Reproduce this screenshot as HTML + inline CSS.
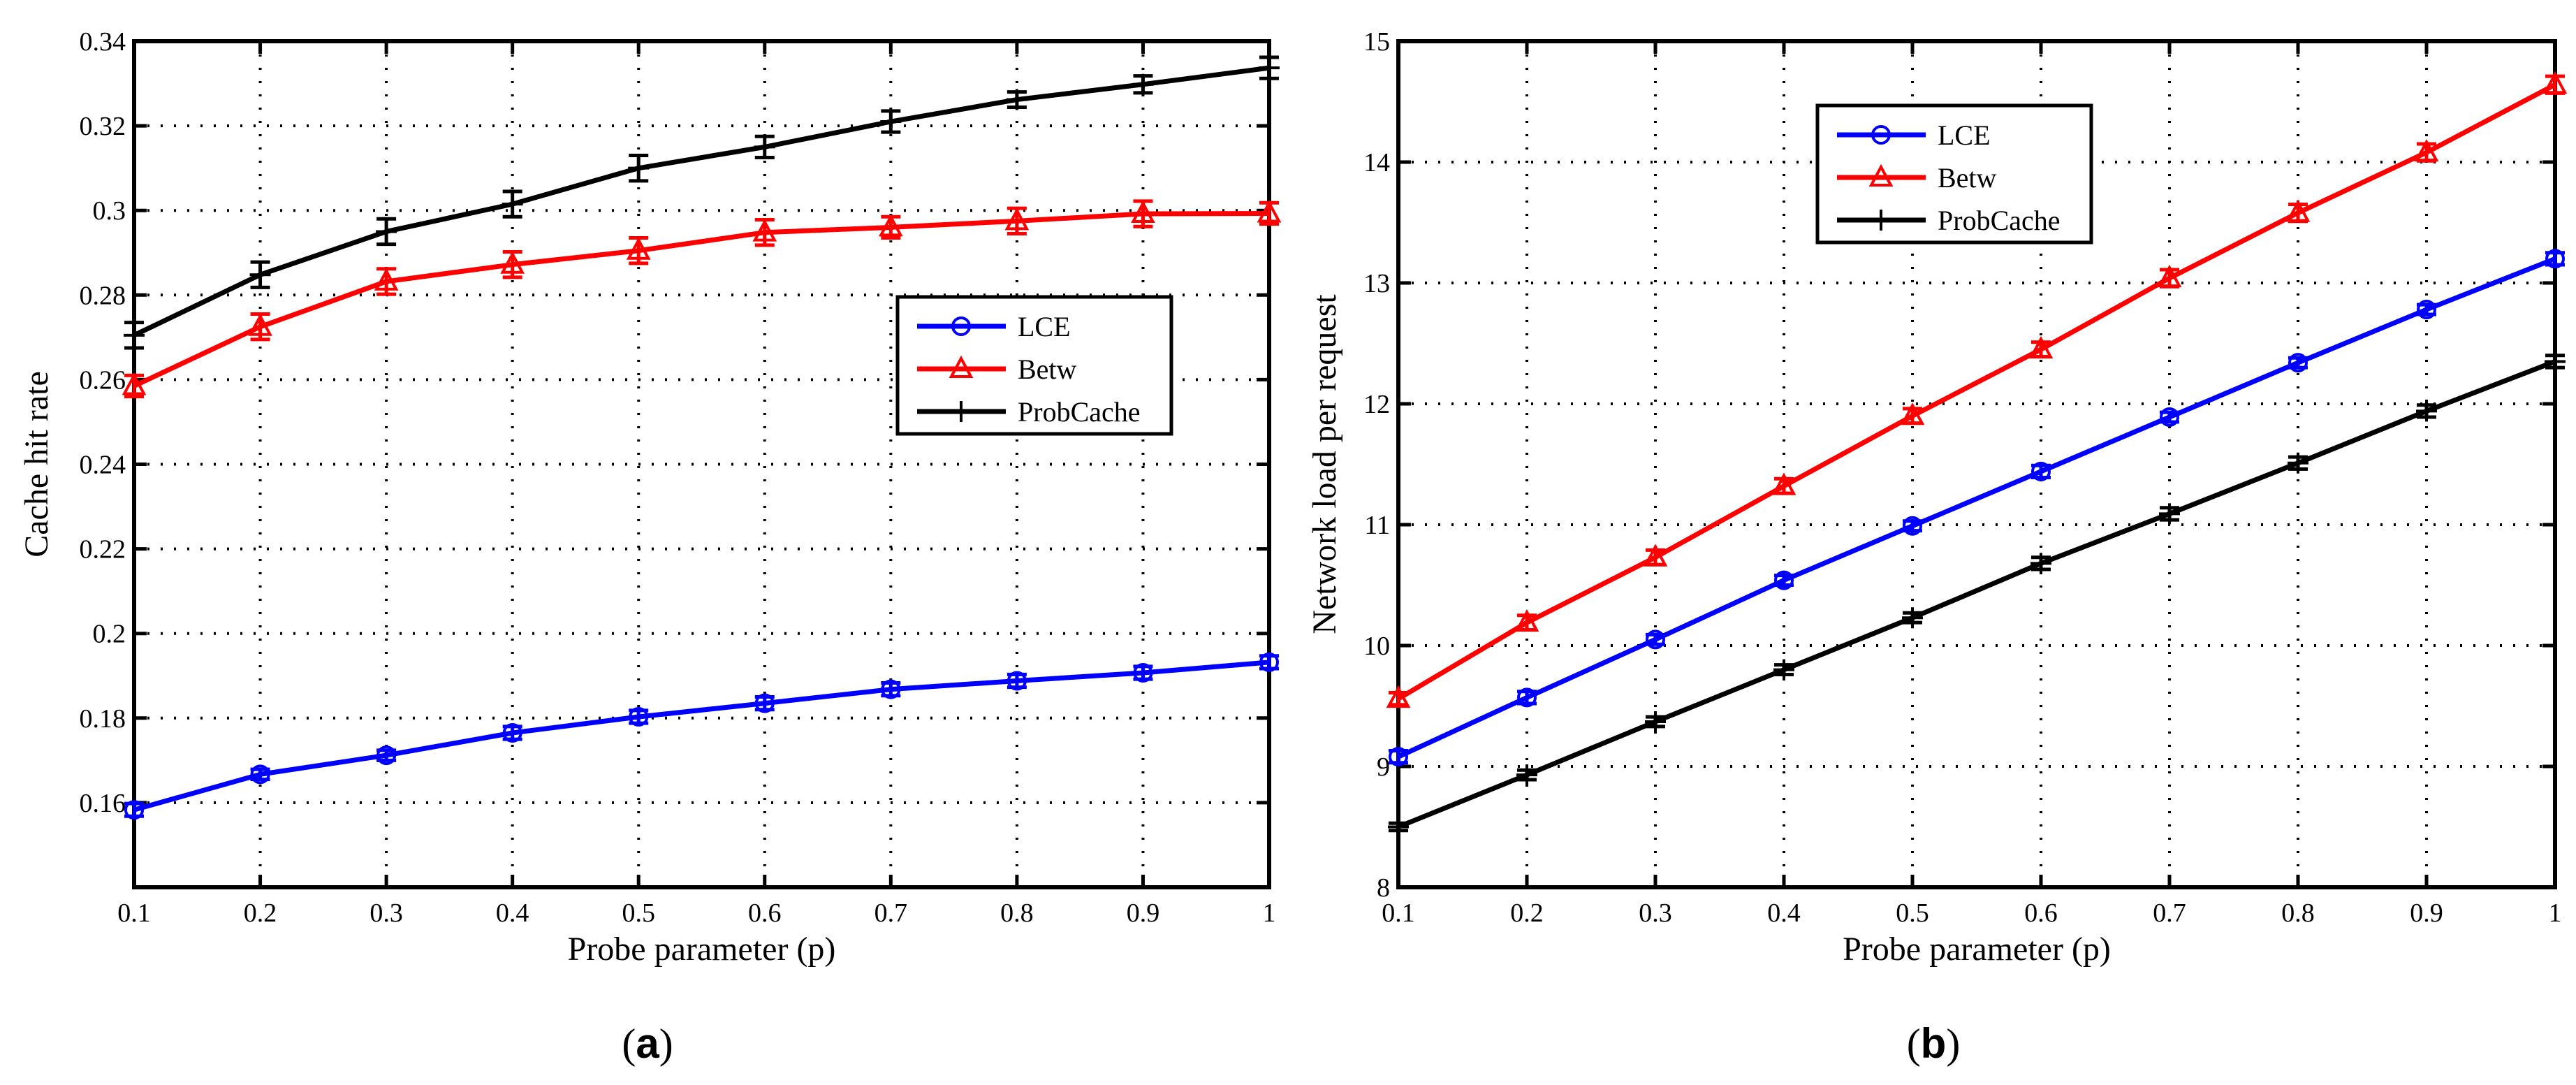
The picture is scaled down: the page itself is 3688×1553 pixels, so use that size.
<!DOCTYPE html>
<html><head><meta charset="utf-8"><style>
html,body{margin:0;padding:0;background:#fff;}
svg{display:block;}
text{font-family:"Liberation Serif",serif;fill:#000;}
</style></head><body>
<svg id="fig" width="3688" height="1553" viewBox="0 0 3688 1553" xmlns="http://www.w3.org/2000/svg"></svg>
<script>
const xCats = [0.1,0.2,0.3,0.4,0.5,0.6,0.7,0.8,0.9,1.0];
const xTickLabels = ["0.1","0.2","0.3","0.4","0.5","0.6","0.7","0.8","0.9","1"];
const aYTicks = [0.16,0.18,0.20,0.22,0.24,0.26,0.28,0.30,0.32,0.34];
const aYTickLabels = ["0.16","0.18","0.2","0.22","0.24","0.26","0.28","0.3","0.32","0.34"];
const aLCE = [0.1583,0.1667,0.1712,0.1765,0.1803,0.1835,0.1868,0.1888,0.1907,0.1932];
const aLCEerr = [0.0015,0.0012,0.0012,0.0015,0.0015,0.0015,0.0015,0.0015,0.0015,0.0015];
const aBetw = [0.2585,0.2725,0.2832,0.2872,0.2905,0.2948,0.2960,0.2975,0.2992,0.2993];
const aBetwErr = [0.0025,0.003,0.003,0.003,0.003,0.003,0.0025,0.003,0.003,0.0025];
const aProb = [0.2705,0.2848,0.2950,0.3015,0.3100,0.3150,0.3210,0.3262,0.3298,0.3337];
const aProbErr = [0.003,0.003,0.003,0.003,0.003,0.0025,0.0025,0.0018,0.002,0.0025];
const bYTicks = [8,9,10,11,12,13,14,15];
const bYTickLabels = ["8","9","10","11","12","13","14","15"];
const bLCE = [9.08,9.57,10.05,10.54,10.99,11.44,11.89,12.34,12.78,13.20];
const bLCEerr = [0.05,0.05,0.04,0.04,0.04,0.05,0.04,0.04,0.04,0.05];
const bBetw = [9.56,10.19,10.73,11.32,11.90,12.45,13.04,13.58,14.08,14.64];
const bBetwErr = [0.05,0.06,0.06,0.06,0.06,0.06,0.07,0.07,0.07,0.07];
const bProb = [8.50,8.93,9.37,9.80,10.23,10.68,11.09,11.51,11.94,12.35];
const bProbErr = [0.03,0.04,0.04,0.04,0.04,0.05,0.05,0.05,0.05,0.05];

const NS="http://www.w3.org/2000/svg";
const svg=document.getElementById('fig');
function el(tag,attrs,parent){const e=document.createElementNS(NS,tag);for(const k in attrs)e.setAttribute(k,attrs[k]);(parent||svg).appendChild(e);return e;}

function panel(cfg){
  const g=el('g',{});
  
  
  const L=cfg.L,R=cfg.R,T=59,B=1270;
  const xs=v=>L+(v-0.1)/(1.0-0.1)*(R-L);
  const ys=v=>B-(v-cfg.ymin)/(cfg.ymax-cfg.ymin)*(B-T);
  xCats.forEach((v,i)=>{
    if(i>0&&i<xCats.length-1){const gl=el('line',{x1:xs(v),x2:xs(v),y1:T,y2:B,stroke:'#000','stroke-width':4,'stroke-dasharray':'3 16'},g);
    }
    const tk=el('line',{x1:xs(v),x2:xs(v),y1:B,y2:B-18,stroke:'#000','stroke-width':5},g);
    
    const tk2=el('line',{x1:xs(v),x2:xs(v),y1:T,y2:T+18,stroke:'#000','stroke-width':5},g);
    
    const t=el('text',{x:xs(v),y:1319,'text-anchor':'middle','font-size':38},g);
    t.textContent=xTickLabels[i];
    
  });
  cfg.yTicks.forEach((v,i)=>{
    const y=ys(v);
    if(v>cfg.ymin&&v<cfg.ymax){const gl=el('line',{x1:L,x2:R,y1:y,y2:y,stroke:'#000','stroke-width':4,'stroke-dasharray':'3 16'},g);
    }
    const tk=el('line',{x1:L,x2:L+18,y1:y,y2:y,stroke:'#000','stroke-width':5},g);
    
    const tk2=el('line',{x1:R,x2:R-18,y1:y,y2:y,stroke:'#000','stroke-width':5},g);
    
    const t=el('text',{x:L-12,y:y+13,'text-anchor':'end','font-size':38},g);
    t.textContent=cfg.yLabels[i];
    
  });
  const box=el('rect',{x:L,y:T,width:R-L,height:B-T,fill:'none',stroke:'#000','stroke-width':6},g);
  
  cfg.series.forEach(s=>{
    const sg=el('g',{},g);
    
    
    const pts=s.vals.map((v,i)=>xs(xCats[i])+','+ys(v)).join(' ');
    const pl=el('polyline',{points:pts,fill:'none',stroke:s.color,'stroke-width':7,'stroke-linejoin':'round'},sg);
    
    s.vals.forEach((v,i)=>{
      const x=xs(xCats[i]),y1=ys(v-s.err[i]),y2=ys(v+s.err[i]);
      const eb=el('path',{d:`M${x},${y1}V${y2}M${x-14},${y1}H${x+14}M${x-14},${y2}H${x+14}`,stroke:s.color,'stroke-width':5,fill:'none'},sg);
      
      marker(sg,s.marker,x,ys(v),s.color,s.name+'-marker');
    });
  });
  const lg=el('g',{},g);
  
  
  const lb=el('rect',{x:cfg.legX,y:cfg.legY,width:392,height:196,fill:'#fff',stroke:'#000','stroke-width':5},lg);
  
  cfg.series.forEach((s,i)=>{
    const y=cfg.legY+42+i*61;
    const ln=el('line',{x1:cfg.legX+28,x2:cfg.legX+155,y1:y,y2:y,stroke:s.color,'stroke-width':7},lg);
    
    marker(lg,s.marker,cfg.legX+91,y,s.color,'legend-marker');
    const t=el('text',{x:cfg.legX+172,y:y+14,'font-size':40},lg);
    t.textContent=s.label;
    
  });
  const xl=el('text',{x:(L+R)/2,y:1374,'text-anchor':'middle','font-size':48},g);
  xl.textContent='Probe parameter (p)';
  
  const yl=el('text',{x:0,y:0,'text-anchor':'middle','font-size':48,transform:`translate(${cfg.yTitleX},${(T+B)/2}) rotate(-90)`},g);
  yl.textContent=cfg.yTitle;
  
  const cap=el('text',{x:cfg.capX,y:1514,'text-anchor':'middle','font-size':60},g);
  cap.innerHTML='(<tspan font-weight="bold" font-family="Liberation Sans, sans-serif">'+cfg.caption+'</tspan>)';
  
}
function marker(parent,type,x,y,color,name){
  let m;
  if(type==='circle') m=el('circle',{cx:x,cy:y,r:12,fill:'none',stroke:color,'stroke-width':4},parent);
  else if(type==='tri') m=el('path',{d:`M${x},${y-15}L${x+14},${y+11}L${x-14},${y+11}Z`,fill:'none',stroke:color,'stroke-width':4},parent);
  else m=el('path',{d:`M${x-15},${y}H${x+15}M${x},${y-15}V${y+15}`,fill:'none',stroke:color,'stroke-width':4},parent);
  
  
}
panel({name:'panel-a-cache-hit-rate',L:192,R:1817,ymin:0.14,ymax:0.34,yTicks:aYTicks,yLabels:aYTickLabels,
  yTitle:'Cache hit rate',yTitleX:68,caption:'a',capX:927,legX:1285,legY:425,
  series:[{name:'lce',label:'LCE',color:'#0000ff',marker:'circle',vals:aLCE,err:aLCEerr},
          {name:'betw',label:'Betw',color:'#ff0000',marker:'tri',vals:aBetw,err:aBetwErr},
          {name:'probcache',label:'ProbCache',color:'#000000',marker:'plus',vals:aProb,err:aProbErr}]});
panel({name:'panel-b-network-load',L:2002,R:3658,ymin:8,ymax:15,yTicks:bYTicks,yLabels:bYTickLabels,
  yTitle:'Network load per request',yTitleX:1912,caption:'b',capX:2768,legX:2602,legY:151,
  series:[{name:'lce',label:'LCE',color:'#0000ff',marker:'circle',vals:bLCE,err:bLCEerr},
          {name:'betw',label:'Betw',color:'#ff0000',marker:'tri',vals:bBetw,err:bBetwErr},
          {name:'probcache',label:'ProbCache',color:'#000000',marker:'plus',vals:bProb,err:bProbErr}]});
</script>
</body></html>
